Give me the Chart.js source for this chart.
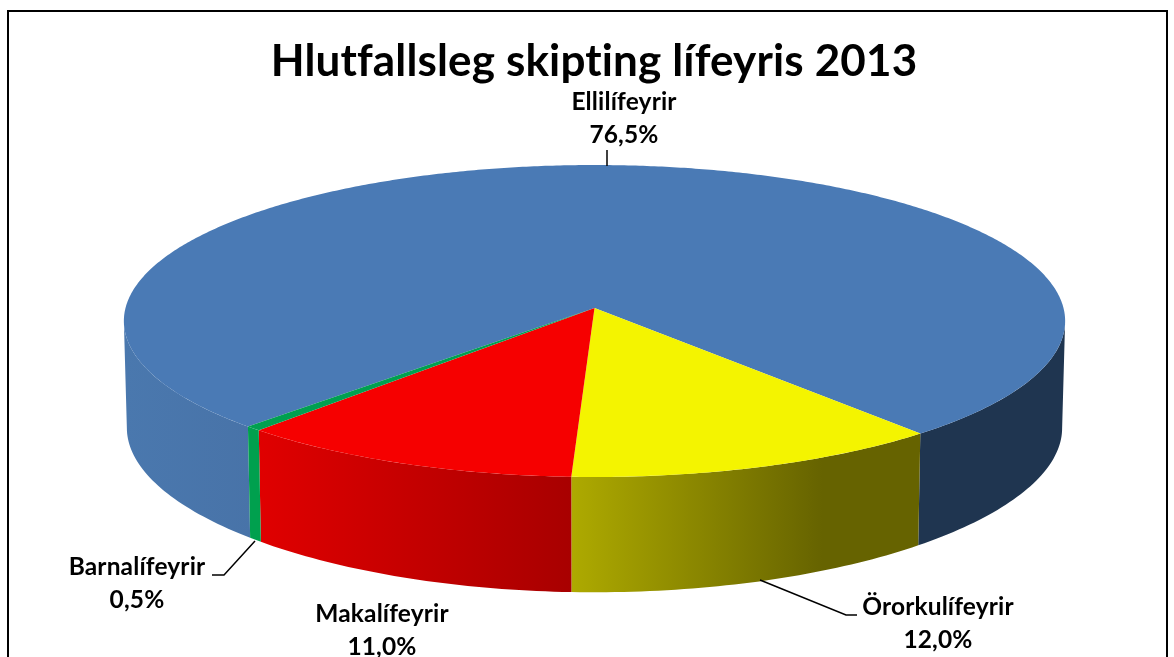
<!DOCTYPE html>
<html><head><meta charset="utf-8">
<style>html,body{margin:0;padding:0;background:#fff}canvas{display:block}</style>
<script src="https://cdn.jsdelivr.net/npm/chart.js@4"></script>
</head><body>
<canvas id="c" width="1174" height="657"></canvas>
<script>
const chartTitle = "Hlutfallsleg skipting lífeyris 2013";
const categories = ["Ellilífeyrir", "Örorkulífeyrir", "Makalífeyrir", "Barnalífeyrir"];
const shares = [76.5, 12.0, 11.0, 0.5];
const topColors = ["#4a7ab5", "#f4f400", "#f60000", "#00a050"];
const wallFrom = [123, 571, 258, 245];
const wallTo = [1066, 920, 571, 260];
const wallStops = [
  [[0,"#4a78ae"],[0.14,"#4873a8"],[0.141,"#1f3550"],[1,"#1f3550"]],
  [[0,"#aeaa00"],[0.72,"#666300"],[1,"#666300"]],
  [[0,"#e00000"],[1,"#a80000"]],
  [[0,"#00a04e"],[1,"#00a04e"]]
];
const labelBoxes = [[624,102],[938,607],[382,614],[137,567]];
const leaders = [
  [[607,150],[607,166]],
  [[760,580],[846,615],[857,615]],
  null,
  [[212,575],[224,575],[255,541]]
];

const cx = 594.5, topApexY = 308;
function topPt(t){
  const u=Math.cos(t), v=Math.sin(t), w=1-0.0833*v;
  return [cx+469*u/w, topApexY+154.9*v/w];
}
function botPt(t){
  const u=Math.cos(t), v=Math.sin(t);
  return [cx+466*u/(1-0.0833*v), 415+156*v/(1-0.12*v)];
}
const rad = Math.PI/180;
const visFrom = 4.8*rad, visTo = 175.2*rad;

const pie3d = {
  id:'pie3d',
  beforeDraw(chart){
    chart.ctx.letterSpacing='0.15px';
  },
  beforeDatasetDraw(chart,args){
    const ctx=chart.ctx, arcs=chart.getDatasetMeta(args.index).data;
    ctx.save();
    // side wall
    arcs.forEach((a,i)=>{
      const g=ctx.createLinearGradient(wallFrom[i],0,wallTo[i],0);
      wallStops[i].forEach(s=>g.addColorStop(s[0],s[1]));
      for(let k=-1;k<=1;k++){
        const s=Math.max(a.startAngle,visFrom+k*2*Math.PI), e=Math.min(a.endAngle,visTo+k*2*Math.PI);
        if(e<=s) continue;
        const n=Math.max(2,Math.ceil((e-s)/rad));
        ctx.beginPath();
        for(let j=0;j<=n;j++){const p=topPt(s+(e-s)*j/n); j?ctx.lineTo(p[0],p[1]):ctx.moveTo(p[0],p[1]);}
        for(let j=n;j>=0;j--){const p=botPt(s+(e-s)*j/n); ctx.lineTo(p[0],p[1]);}
        ctx.closePath();
        ctx.fillStyle=g; ctx.fill();
      }
    });
    // top face
    arcs.forEach((a,i)=>{
      const n=Math.max(2,Math.ceil((a.endAngle-a.startAngle)/(0.5*rad)));
      ctx.beginPath(); ctx.moveTo(cx,topApexY);
      for(let j=0;j<=n;j++){const p=topPt(a.startAngle+(a.endAngle-a.startAngle)*j/n); ctx.lineTo(p[0],p[1]);}
      ctx.closePath();
      ctx.fillStyle=topColors[i]; ctx.fill();
    });
    ctx.restore();
    return false;
  },
  afterDraw(chart){
    const ctx=chart.ctx;
    ctx.save();
    ctx.strokeStyle="#000"; ctx.lineWidth=2;
    ctx.strokeRect(8,11,1159,660);
    ctx.lineWidth=1.5;
    leaders.forEach(l=>{
      if(!l) return;
      ctx.beginPath();
      l.forEach((p,j)=>j?ctx.lineTo(p[0],p[1]):ctx.moveTo(p[0],p[1]));
      ctx.stroke();
    });
    ctx.fillStyle="#000"; ctx.textAlign="center"; ctx.textBaseline="middle";
    ctx.font="bold 24.5px Lato";
    categories.forEach((c,i)=>{
      const b=labelBoxes[i];
      ctx.fillText(c,b[0],b[1]);
      ctx.fillText(shares[i].toFixed(1).replace('.',',')+"%",b[0],b[1]+33);
    });
    ctx.restore();
  }
};

new Chart(document.getElementById('c'),{
  type:'pie',
  data:{labels:categories,datasets:[{data:shares,backgroundColor:topColors,borderWidth:0}]},
  options:{
    responsive:false,animation:false,rotation:224,
    layout:{padding:{left:14,top:35}},
    plugins:{
      legend:{display:false},tooltip:{enabled:false},
      title:{display:true,text:chartTitle,color:"#000",padding:0,font:{family:"Lato",weight:"bold",size:44}}
    }
  },
  plugins:[pie3d]
});
</script>
</body></html>
